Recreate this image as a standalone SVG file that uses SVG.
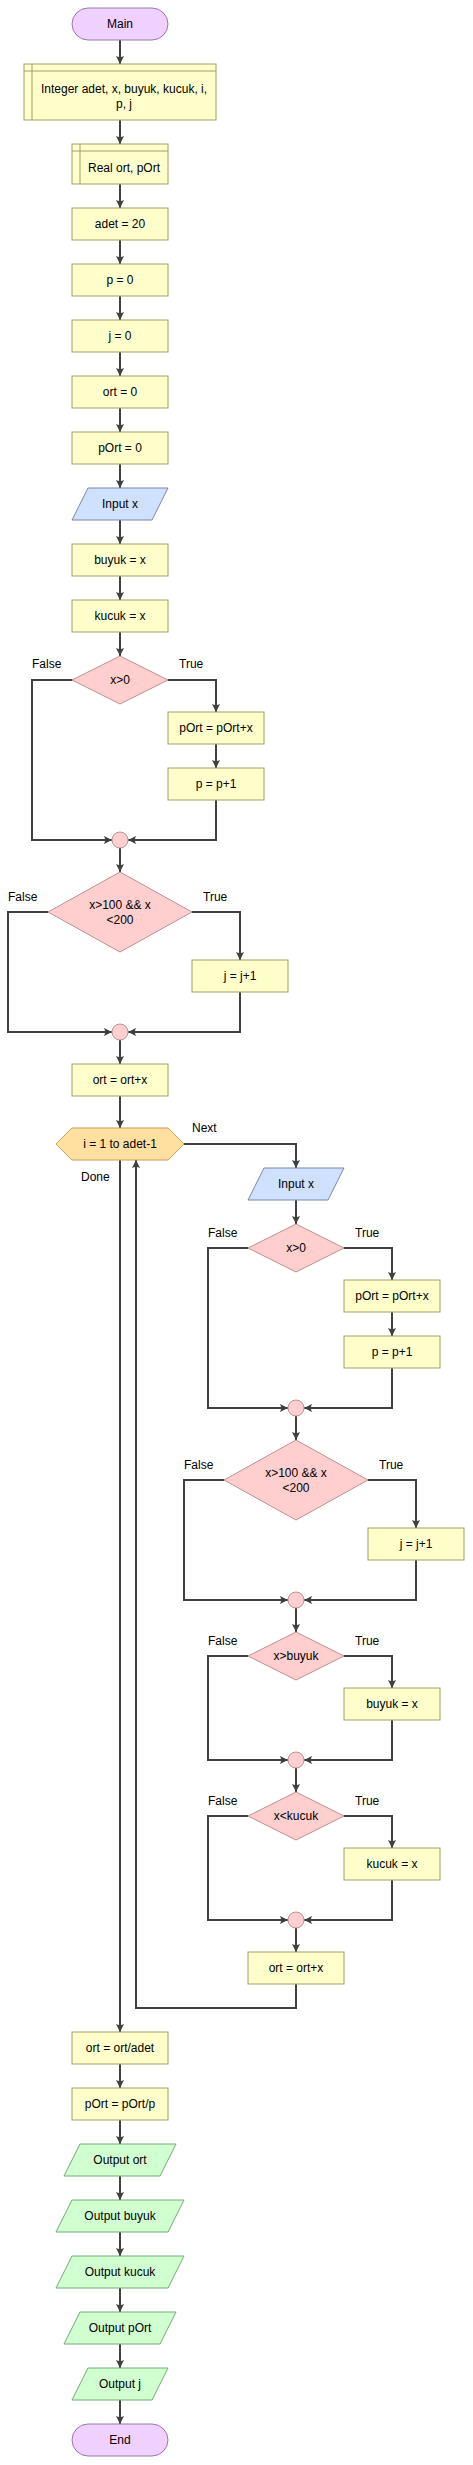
<svg xmlns="http://www.w3.org/2000/svg" width="473" height="2465" viewBox="0 0 473 2465">
<style>
text{font-family:"Liberation Sans",Arial,sans-serif;font-size:12px;fill:#000}
.c{text-anchor:middle}
.proc{fill:#FFFFCC;stroke:#A0A060;stroke-width:1}
.term{fill:#F0D0FF;stroke:#9A7AAA;stroke-width:1}
.inp{fill:#D0E0FF;stroke:#7888A8;stroke-width:1}
.out{fill:#D0FFD0;stroke:#78A878;stroke-width:1}
.dec{fill:#FFCFCF;stroke:#C09090;stroke-width:1}
.loop{fill:#FFE0A0;stroke:#C8A050;stroke-width:1}
.edge{fill:none;stroke:#404040;stroke-width:2;marker-end:url(#ah)}
</style>
<defs>
<marker id="ah" markerUnits="userSpaceOnUse" markerWidth="9" markerHeight="9" refX="8" refY="4" orient="auto">
<path d="M0,0 L8,4 L0,8 L1.5,4 z" fill="#404040"/>
</marker>
</defs>
<rect width="473" height="2465" fill="#fff"/>
<g id="connectors">
<path class="edge" d="M120,40V64"/>
<path class="edge" d="M120,120V144"/>
<path class="edge" d="M120,184V208"/>
<path class="edge" d="M120,240V264"/>
<path class="edge" d="M120,296V320"/>
<path class="edge" d="M120,352V376"/>
<path class="edge" d="M120,408V432"/>
<path class="edge" d="M120,464V488"/>
<path class="edge" d="M120,520V544"/>
<path class="edge" d="M120,576V600"/>
<path class="edge" d="M120,632V656"/>
<path class="edge" d="M72,680H32V840H112"/>
<path class="edge" d="M168,680H216V712"/>
<path class="edge" d="M216,744V768"/>
<path class="edge" d="M216,800V840H128"/>
<path class="edge" d="M120,848V872"/>
<path class="edge" d="M48,912H8V1032H112"/>
<path class="edge" d="M192,912H240V960"/>
<path class="edge" d="M240,992V1032H128"/>
<path class="edge" d="M120,1040V1064"/>
<path class="edge" d="M120,1096V1128"/>
<path class="edge" d="M184,1144H296V1168"/>
<path class="edge" d="M296,1200V1224"/>
<path class="edge" d="M248,1248H208V1408H288"/>
<path class="edge" d="M344,1248H392V1280"/>
<path class="edge" d="M392,1312V1336"/>
<path class="edge" d="M392,1368V1408H304"/>
<path class="edge" d="M296,1416V1440"/>
<path class="edge" d="M224,1480H184V1600H288"/>
<path class="edge" d="M368,1480H416V1528"/>
<path class="edge" d="M416,1560V1600H304"/>
<path class="edge" d="M296,1608V1632"/>
<path class="edge" d="M248,1656H208V1760H288"/>
<path class="edge" d="M344,1656H392V1688"/>
<path class="edge" d="M392,1720V1760H304"/>
<path class="edge" d="M296,1768V1792"/>
<path class="edge" d="M248,1816H208V1920H288"/>
<path class="edge" d="M344,1816H392V1848"/>
<path class="edge" d="M392,1880V1920H304"/>
<path class="edge" d="M296,1928V1952"/>
<path class="edge" d="M296,1984V2008H136V1160"/>
<path class="edge" d="M120,1160V2032"/>
<path class="edge" d="M120,2064V2088"/>
<path class="edge" d="M120,2120V2144"/>
<path class="edge" d="M120,2176V2200"/>
<path class="edge" d="M120,2232V2256"/>
<path class="edge" d="M120,2288V2312"/>
<path class="edge" d="M120,2344V2368"/>
<path class="edge" d="M120,2400V2424"/>
<text x="32" y="668">False</text>
<text x="179" y="668">True</text>
<text x="8" y="901">False</text>
<text x="203" y="901">True</text>
<text x="192" y="1132">Next</text>
<text x="81" y="1181">Done</text>
<text x="208" y="1237">False</text>
<text x="355" y="1237">True</text>
<text x="184" y="1469">False</text>
<text x="379" y="1469">True</text>
<text x="208" y="1645">False</text>
<text x="355" y="1645">True</text>
<text x="208" y="1805">False</text>
<text x="355" y="1805">True</text>
</g>
<g id="n-main"><rect class="term" x="72" y="8" width="96" height="32" rx="16"/><text class="c" x="120" y="28">Main</text></g>
<g id="n-decl1"><rect class="proc" x="24" y="64" width="192" height="56"/><path class="proc" d="M32,64V120M24,71H216" fill="none"/><text class="c" x="124" y="93">Integer adet, x, buyuk, kucuk, i,</text><text class="c" x="124" y="108">p, j</text></g>
<g id="n-decl2"><rect class="proc" x="72" y="144" width="96" height="40"/><path class="proc" d="M80,144V184M72,151H168" fill="none"/><text class="c" x="124" y="172">Real ort, pOrt</text></g>
<g id="n-adet"><rect class="proc" x="72" y="208" width="96" height="32"/><text class="c" x="120" y="228">adet = 20</text></g>
<g id="n-p0"><rect class="proc" x="72" y="264" width="96" height="32"/><text class="c" x="120" y="284">p = 0</text></g>
<g id="n-j0"><rect class="proc" x="72" y="320" width="96" height="32"/><text class="c" x="120" y="340">j = 0</text></g>
<g id="n-ort0"><rect class="proc" x="72" y="376" width="96" height="32"/><text class="c" x="120" y="396">ort = 0</text></g>
<g id="n-port0"><rect class="proc" x="72" y="432" width="96" height="32"/><text class="c" x="120" y="452">pOrt = 0</text></g>
<g id="n-input1"><path class="inp" d="M88,488H168L152,520H72Z"/><text class="c" x="120" y="508">Input x</text></g>
<g id="n-buyuk1"><rect class="proc" x="72" y="544" width="96" height="32"/><text class="c" x="120" y="564">buyuk = x</text></g>
<g id="n-kucuk1"><rect class="proc" x="72" y="600" width="96" height="32"/><text class="c" x="120" y="620">kucuk = x</text></g>
<g id="n-dec1"><path class="dec" d="M120,656L168,680L120,704L72,680Z"/><text class="c" x="120" y="684">x&gt;0</text></g>
<g id="n-port1"><rect class="proc" x="168" y="712" width="96" height="32"/><text class="c" x="216" y="732">pOrt = pOrt+x</text></g>
<g id="n-pinc1"><rect class="proc" x="168" y="768" width="96" height="32"/><text class="c" x="216" y="788">p = p+1</text></g>
<g id="n-join1"><circle class="dec" cx="120" cy="840" r="8"/></g>
<g id="n-dec2"><path class="dec" d="M120,872L192,912L120,952L48,912Z"/><text class="c" x="120" y="909">x&gt;100 &amp;&amp; x</text><text class="c" x="120" y="924">&lt;200</text></g>
<g id="n-jinc1"><rect class="proc" x="192" y="960" width="96" height="32"/><text class="c" x="240" y="980">j = j+1</text></g>
<g id="n-join2"><circle class="dec" cx="120" cy="1032" r="8"/></g>
<g id="n-ort1"><rect class="proc" x="72" y="1064" width="96" height="32"/><text class="c" x="120" y="1084">ort = ort+x</text></g>
<g id="n-loop"><path class="loop" d="M56,1144L72,1128H168L184,1144L168,1160H72Z"/><text class="c" x="120" y="1148">i = 1 to adet-1</text></g>
<g id="n-input2"><path class="inp" d="M264,1168H344L328,1200H248Z"/><text class="c" x="296" y="1188">Input x</text></g>
<g id="n-dec3"><path class="dec" d="M296,1224L344,1248L296,1272L248,1248Z"/><text class="c" x="296" y="1252">x&gt;0</text></g>
<g id="n-port2"><rect class="proc" x="344" y="1280" width="96" height="32"/><text class="c" x="392" y="1300">pOrt = pOrt+x</text></g>
<g id="n-pinc2"><rect class="proc" x="344" y="1336" width="96" height="32"/><text class="c" x="392" y="1356">p = p+1</text></g>
<g id="n-join3"><circle class="dec" cx="296" cy="1408" r="8"/></g>
<g id="n-dec4"><path class="dec" d="M296,1440L368,1480L296,1520L224,1480Z"/><text class="c" x="296" y="1477">x&gt;100 &amp;&amp; x</text><text class="c" x="296" y="1492">&lt;200</text></g>
<g id="n-jinc2"><rect class="proc" x="368" y="1528" width="96" height="32"/><text class="c" x="416" y="1548">j = j+1</text></g>
<g id="n-join4"><circle class="dec" cx="296" cy="1600" r="8"/></g>
<g id="n-dec5"><path class="dec" d="M296,1632L344,1656L296,1680L248,1656Z"/><text class="c" x="296" y="1660">x&gt;buyuk</text></g>
<g id="n-buyuk2"><rect class="proc" x="344" y="1688" width="96" height="32"/><text class="c" x="392" y="1708">buyuk = x</text></g>
<g id="n-join5"><circle class="dec" cx="296" cy="1760" r="8"/></g>
<g id="n-dec6"><path class="dec" d="M296,1792L344,1816L296,1840L248,1816Z"/><text class="c" x="296" y="1820">x&lt;kucuk</text></g>
<g id="n-kucuk2"><rect class="proc" x="344" y="1848" width="96" height="32"/><text class="c" x="392" y="1868">kucuk = x</text></g>
<g id="n-join6"><circle class="dec" cx="296" cy="1920" r="8"/></g>
<g id="n-ort2"><rect class="proc" x="248" y="1952" width="96" height="32"/><text class="c" x="296" y="1972">ort = ort+x</text></g>
<g id="n-ortdiv"><rect class="proc" x="72" y="2032" width="96" height="32"/><text class="c" x="120" y="2052">ort = ort/adet</text></g>
<g id="n-portdiv"><rect class="proc" x="72" y="2088" width="96" height="32"/><text class="c" x="120" y="2108">pOrt = pOrt/p</text></g>
<g id="n-out1"><path class="out" d="M80,2144H176L160,2176H64Z"/><text class="c" x="120" y="2164">Output ort</text></g>
<g id="n-out2"><path class="out" d="M72,2200H184L168,2232H56Z"/><text class="c" x="120" y="2220">Output buyuk</text></g>
<g id="n-out3"><path class="out" d="M72,2256H184L168,2288H56Z"/><text class="c" x="120" y="2276">Output kucuk</text></g>
<g id="n-out4"><path class="out" d="M80,2312H176L160,2344H64Z"/><text class="c" x="120" y="2332">Output pOrt</text></g>
<g id="n-out5"><path class="out" d="M88,2368H168L152,2400H72Z"/><text class="c" x="120" y="2388">Output j</text></g>
<g id="n-end"><rect class="term" x="72" y="2424" width="96" height="32" rx="16"/><text class="c" x="120" y="2444">End</text></g>
</svg>
